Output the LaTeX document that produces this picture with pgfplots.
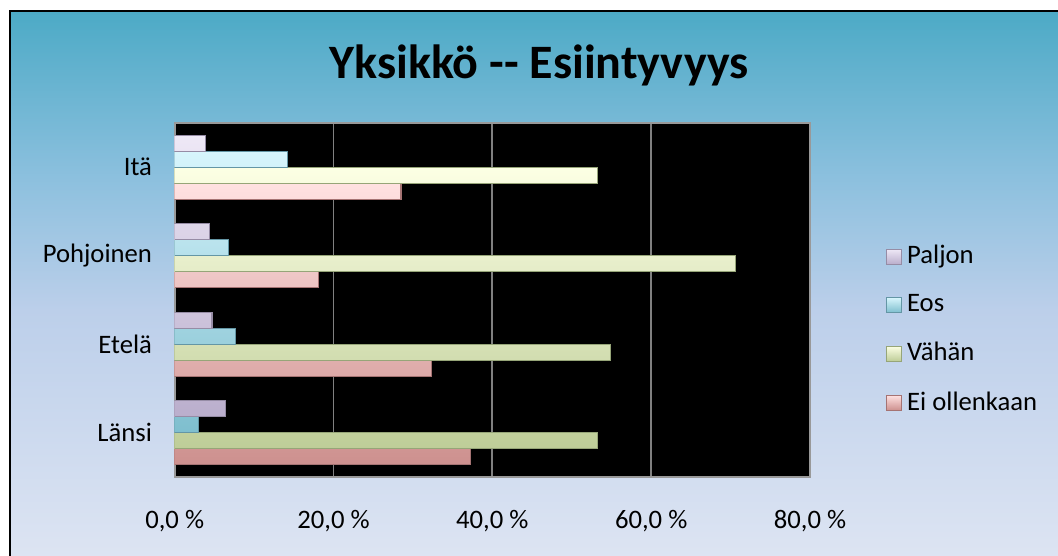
\documentclass[border=0pt]{standalone}
\usepackage{pgfplots}
\pgfplotsset{compat=1.18}
\usepackage{fontspec}
\setmainfont{Carlito}
\definecolor{bgA}{RGB}{76,170,198}
\definecolor{bgB}{RGB}{140,192,222}
\definecolor{bgC}{RGB}{188,207,234}
\definecolor{bgD}{RGB}{222,229,243}
\definecolor{pajT}{RGB}{238,232,246}
\definecolor{pajB}{RGB}{186,174,204}
\definecolor{pajD}{RGB}{150,140,165}
\definecolor{eosT}{RGB}{215,245,252}
\definecolor{eosB}{RGB}{126,190,206}
\definecolor{eosD}{RGB}{100,150,165}
\definecolor{vahT}{RGB}{252,255,228}
\definecolor{vahB}{RGB}{190,205,152}
\definecolor{vahD}{RGB}{150,165,120}
\definecolor{eiT}{RGB}{255,225,225}
\definecolor{eiB}{RGB}{205,144,142}
\definecolor{eiD}{RGB}{165,115,115}
\pgfdeclareverticalshading{bgshade}{100bp}{color(0bp)=(bgD); color(25bp)=(bgD); color(48bp)=(bgC); color(60bp)=(bgB); color(75bp)=(bgA); color(100bp)=(bgA)}
\begin{document}
\begin{tikzpicture}[x=0.375pt,y=0.375pt]
\useasboundingbox (0,0) rectangle (1058,555);
\clip (0,0) rectangle (1058,555);
\fill[white] (0,0) rectangle (1058,555);
\shade[shading=bgshade, draw=black, line width=0.6pt] (10,-10) rectangle (1070,544);
\node[font=\bfseries\fontsize{18}{22}\selectfont] at (539,490) {Yksikkö -\kern0pt- Esiintyvyys};
\begin{axis}[
  at={(65.51pt,29.25pt)}, anchor=south west,
  scale only axis, width=238.24pt, height=132.75pt,
  xbar, bar width=6pt,
  xmin=0, xmax=80, ymin=-0.5, ymax=3.5,
  ytick={0,1,2,3}, yticklabels={Länsi,Etelä,Pohjoinen,Itä},
  xtick={0,20,40,60,80},
  xticklabels={{0,0 \%},{20,0 \%},{40,0 \%},{60,0 \%},{80,0 \%}},
  ticklabel style={font=\fontsize{10}{12}\selectfont},
  xticklabel style={yshift=-9pt},
  yticklabel style={xshift=-5pt},
  major tick length=0pt,
  axis background/.style={fill=black},
  xmajorgrids, grid style={draw=gray, line width=0.7pt},
  axis line style={draw=gray!80, line width=0.7pt},
  legend style={at={(1.106,0.686)}, anchor=north west, draw=none, fill=none,
    font=\fontsize{10}{12}\selectfont, row sep=6pt},
  legend cell align=left,
  reverse legend,
  legend image code/.code={\draw[#1] (-2.6pt,-2.8pt) rectangle (3.0pt,2.8pt);},
]
\addplot[bar shift=-9pt, draw=eiD, top color=eiT, bottom color=eiB] coordinates {(37.2,0) (32.3,1) (18.1,2) (28.5,3)};
\addlegendentry{Ei ollenkaan}
\addplot[bar shift=-3pt, draw=vahD, top color=vahT, bottom color=vahB] coordinates {(53.2,0) (54.9,1) (70.6,2) (53.2,3)};
\addlegendentry{Vähän}
\addplot[bar shift=3pt, draw=eosD, top color=eosT, bottom color=eosB] coordinates {(3.0,0) (7.6,1) (6.8,2) (14.2,3)};
\addlegendentry{Eos}
\addplot[bar shift=9pt, draw=pajD, top color=pajT, bottom color=pajB] coordinates {(6.4,0) (4.7,1) (4.4,2) (3.9,3)};
\addlegendentry{Paljon}
\end{axis}
\end{tikzpicture}
\end{document}
